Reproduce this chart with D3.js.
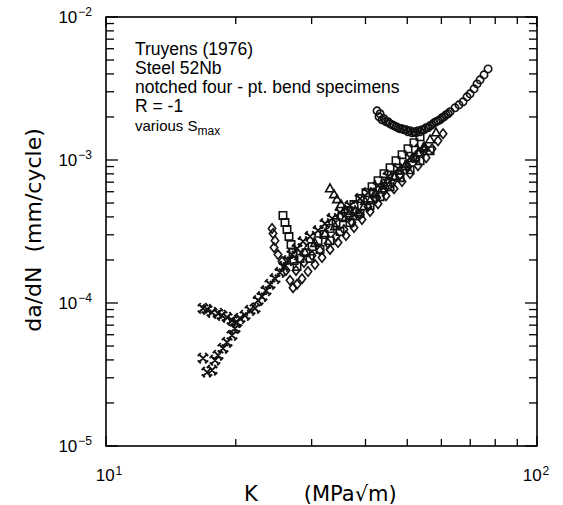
<!DOCTYPE html>
<html><head><meta charset="utf-8">
<script src="https://cdn.jsdelivr.net/npm/d3@7"></script>
<style>body{margin:0;background:#fff}</style>
</head><body><svg id="c" width="563" height="505"></svg>
<script>
// ---- data: [K (MPa√m), da/dN (mm/cycle)] ----
const starsMain = [[16.79,4.11e-5],[17.15,3.28e-5],[17.62,3.39e-5],[17.90,3.98e-5],[18.19,4.31e-5],[18.68,4.82e-5],[19.09,5.31e-5],[19.60,5.94e-5],[19.92,6.65e-5],[20.13,7.32e-5],[20.46,7.81e-5],[21.01,8.19e-5],[21.59,8.88e-5],[22.17,9.17e-5],[22.53,1.04e-4],[23.01,1.11e-4],[23.51,1.22e-4],[24.02,1.35e-4],[24.67,1.48e-4],[25.33,1.635e-4],[25.88,1.80e-4],[26.44,1.98e-4],[27.01,2.18e-4],[27.75,2.40e-4],[28.65,2.69e-4],[29.74,2.92e-4],[31.04,3.21e-4],[32.22,3.59e-4],[33.45,3.90e-4],[34.91,4.29e-4],[36.83,4.80e-4],[38.85,5.37e-4],[40.54,5.91e-4],[42.78,6.62e-4],[45.12,7.65e-4],[47.60,8.70e-4],[50.75,1.038e-3],[53.54,1.199e-3]];
const starsBranch = [[16.79,9.17e-5],[17.15,9.02e-5],[17.62,8.60e-5],[18.19,8.46e-5],[18.58,8.19e-5],[19.09,7.94e-5],[19.60,7.56e-5],[20.03,7.32e-5]];
const diamonds = [[24.28,3.32e-4],[24.41,3.06e-4],[24.67,2.73e-4],[24.54,2.44e-4],[25.07,2.18e-4],[25.61,1.95e-4],[26.16,1.69e-4],[26.73,1.44e-4],[27.16,1.28e-4],[27.75,1.35e-4],[28.50,1.48e-4],[29.42,1.66e-4],[30.54,1.86e-4],[31.71,2.08e-4],[33.09,2.37e-4],[34.54,2.65e-4],[36.05,2.96e-4],[37.62,3.37e-4],[39.26,3.83e-4],[40.99,4.36e-4],[42.78,4.95e-4],[44.64,5.63e-4],[46.59,6.30e-4],[48.63,7.06e-4],[50.75,8.03e-4],[52.96,9.12e-4],[55.29,1.038e-3],[57.08,1.199e-3],[58.93,1.364e-3],[60.54,1.526e-3]];
const diamondsMid = [[27.60,1.69e-4],[28.80,1.92e-4],[30.06,2.15e-4],[31.37,2.33e-4],[32.74,2.61e-4],[34.17,2.92e-4],[35.66,3.26e-4],[37.23,3.65e-4],[38.85,4.15e-4],[40.54,4.72e-4],[42.32,5.37e-4],[44.16,6.10e-4],[46.09,6.94e-4],[48.11,7.90e-4],[50.21,8.98e-4],[52.40,1.021e-3],[54.70,1.162e-3]];
const squares = [[25.74,4.09e-4],[26.02,3.65e-4],[26.30,3.26e-4],[26.58,2.92e-4],[26.87,2.56e-4],[27.16,2.25e-4],[27.30,1.98e-4],[27.75,1.80e-4],[28.19,2.05e-4],[29.11,2.25e-4],[30.06,2.48e-4],[31.04,2.73e-4],[32.05,3.01e-4],[33.09,3.32e-4],[34.17,3.65e-4],[35.28,4.02e-4],[36.44,4.43e-4],[37.62,4.88e-4],[38.85,5.37e-4],[40.11,5.91e-4],[41.43,6.51e-4],[42.78,7.17e-4],[44.16,8.03e-4],[45.61,8.84e-4],[47.09,9.89e-4],[48.63,1.089e-3],[50.21,1.199e-3],[51.84,1.320e-3],[53.54,1.454e-3]];
const squaresLow = [[29.74,2.05e-4],[31.37,2.37e-4],[33.09,2.73e-4],[34.91,3.16e-4],[36.83,3.65e-4],[38.85,4.22e-4],[40.99,4.80e-4],[43.24,5.54e-4],[45.61,6.51e-4],[48.11,7.52e-4],[50.75,8.55e-4],[53.54,9.89e-4],[56.48,1.162e-3]];
const triangles = [[33.09,6.30e-4],[33.81,5.73e-4],[34.36,5.28e-4],[35.10,4.88e-4],[35.85,4.50e-4],[36.63,4.22e-4],[37.42,4.02e-4],[38.43,4.29e-4],[39.68,4.72e-4],[40.99,5.20e-4],[42.32,5.73e-4],[43.70,6.30e-4],[45.12,6.94e-4],[46.59,7.65e-4],[48.11,8.42e-4],[49.68,9.27e-4],[51.29,1.021e-3],[52.96,1.124e-3],[54.70,1.238e-3],[56.48,1.386e-3],[58.31,1.550e-3]];
const trianglesLow = [[28.95,2.25e-4],[30.54,2.61e-4],[32.22,3.06e-4],[33.99,3.42e-4],[35.85,3.90e-4],[37.82,4.43e-4],[39.91,5.12e-4],[42.10,5.82e-4],[44.41,6.62e-4],[46.85,7.65e-4],[49.41,8.98e-4],[52.12,1.038e-3],[54.99,1.218e-3]];
const circles = [[42.55,2.208e-3],[43.01,2.005e-3],[43.70,1.911e-3],[44.64,1.850e-3],[45.61,1.792e-3],[46.59,1.735e-3],[47.60,1.680e-3],[48.63,1.654e-3],[49.68,1.627e-3],[50.75,1.602e-3],[51.84,1.576e-3],[52.96,1.602e-3],[54.12,1.627e-3],[55.29,1.680e-3],[56.48,1.735e-3],[57.68,1.820e-3],[58.93,1.880e-3],[60.22,1.973e-3],[61.52,2.071e-3],[62.85,2.173e-3],[64.54,2.317e-3],[65.92,2.431e-3],[67.36,2.552e-3],[68.81,2.765e-3],[69.93,2.902e-3],[71.44,3.145e-3],[72.59,3.406e-3],[73.76,3.634e-3],[75.34,3.938e-3],[77.00,4.337e-3]];
const circlesB = [[43.24,2.104e-3],[44.16,1.942e-3],[45.12,1.850e-3],[46.09,1.763e-3],[47.09,1.708e-3],[48.11,1.654e-3],[49.15,1.627e-3],[50.21,1.576e-3],[51.29,1.550e-3],[52.40,1.550e-3],[53.54,1.576e-3],[54.70,1.627e-3],[55.87,1.680e-3],[57.08,1.763e-3],[58.31,1.850e-3],[59.58,1.911e-3],[60.85,2.005e-3],[62.18,2.104e-3]];

const xTickValues = [10, 100];
const xTickExps = ["1", "2"];
const yTickValues = [1e-2, 1e-3, 1e-4, 1e-5];
const yTickExps = ["\u22122", "\u22123", "\u22124", "\u22125"];
const annotation = ["Truyens (1976)", "Steel 52Nb", "notched four - pt. bend specimens", "R = -1"];

// ---- drawing ----
const svg = d3.select("#c");
const FONT = "'Liberation Sans', Arial, Helvetica, sans-serif";
const L = 106, R = 537, T = 17, B = 446;
const x = d3.scaleLog().domain([10, 100]).range([L, R]);
const y = d3.scaleLog().domain([1e-5, 1e-2]).range([B, T]);
const isMajor = v => Math.abs(Math.log10(v) - Math.round(Math.log10(v))) < 1e-6;

const g = svg.append("g").attr("stroke", "#000").attr("fill", "none");
g.append("rect").attr("x", L).attr("y", T).attr("width", R - L).attr("height", B - T).attr("stroke-width", 1.6);
x.ticks().forEach(v => {
  const len = isMajor(v) ? 10 : 7;
  g.append("line").attr("x1", x(v)).attr("x2", x(v)).attr("y1", B).attr("y2", B - len).attr("stroke-width", 1.3);
  g.append("line").attr("x1", x(v)).attr("x2", x(v)).attr("y1", T).attr("y2", T + len).attr("stroke-width", 1.3);
});
y.ticks().forEach(v => {
  const len = isMajor(v) ? 12 : 8;
  g.append("line").attr("y1", y(v)).attr("y2", y(v)).attr("x1", L).attr("x2", L + len).attr("stroke-width", 1.3);
  g.append("line").attr("y1", y(v)).attr("y2", y(v)).attr("x1", R).attr("x2", R - len).attr("stroke-width", 1.3);
});

// tick labels
yTickValues.forEach((v, i) => {
  const t = svg.append("text").attr("x", 92).attr("y", y(v) + 6).attr("text-anchor", "end")
    .attr("font-family", FONT).attr("font-size", 17).text("10");
  t.append("tspan").attr("dx", 1).attr("dy", -7).attr("font-size", 12).text(yTickExps[i]);
});
xTickValues.forEach((v, i) => {
  const t = svg.append("text").attr("x", x(v) + (i === 0 ? 3 : -1)).attr("y", 481).attr("text-anchor", "middle")
    .attr("font-family", FONT).attr("font-size", 17).text("10");
  t.append("tspan").attr("dx", 1).attr("dy", -6).attr("font-size", 12).text(xTickExps[i]);
});

// axis titles
svg.append("text").attr("transform", "translate(41,230) rotate(-90)").attr("text-anchor", "middle")
  .attr("font-family", "'DejaVu Sans', sans-serif").attr("font-size", 22).style("white-space", "pre")
  .text("da/dN  (mm/cycle)");
const xt = svg.append("text").attr("x", 244).attr("y", 501)
  .attr("font-family", "'DejaVu Sans', sans-serif").attr("font-size", 21).text("K");
xt.append("tspan").attr("dx", 46).text("(MPa\u221Am)");

// annotation
annotation.forEach((s, i) => {
  svg.append("text").attr("x", 135).attr("y", 55 + i * 19).attr("font-family", FONT).attr("font-size", 17.5).text(s);
});
const vt = svg.append("text").attr("x", 135).attr("y", 131).attr("font-family", FONT).attr("font-size", 15).text("various S");
vt.append("tspan").attr("dy", 4).attr("font-size", 12).text("max");

// markers
const shapes = {
  circle: "M3.7,0A3.7,3.7 0 1 1 -3.7,0A3.7,3.7 0 1 1 3.7,0Z",
  square: "M-3.7,-3.7H3.7V3.7H-3.7Z",
  diamond: "M0,-4.7L3.7,0L0,4.7L-3.7,0Z",
  triangle: "M0,-4.7L4.3,3L-4.3,3Z",
  star: "M-3.6,-3.6L3.6,3.6M-3.6,3.6L3.6,-3.6M-5.2,-2.2L-2.2,-5.2M5.2,2.2L2.2,5.2M-5.2,2.2L-2.2,5.2M5.2,-2.2L2.2,-5.2"
};
const series = [
  [circles, "circle"], [circlesB, "circle"], [diamonds, "diamond"], [diamondsMid, "diamond"],
  [squares, "square"], [squaresLow, "square"], [triangles, "triangle"], [trianglesLow, "triangle"],
  [starsMain, "star"], [starsBranch, "star"]
];
const mg = svg.append("g").attr("fill", "none").attr("stroke", "#111");
series.forEach(([data, shape]) => {
  mg.selectAll(null).data(data).enter().append("path")
    .attr("d", shapes[shape])
    .attr("stroke-width", shape === "star" ? 1.9 : 1.6)
    .attr("transform", d => `translate(${x(d[0])},${y(d[1])})`);
});
</script></body></html>
